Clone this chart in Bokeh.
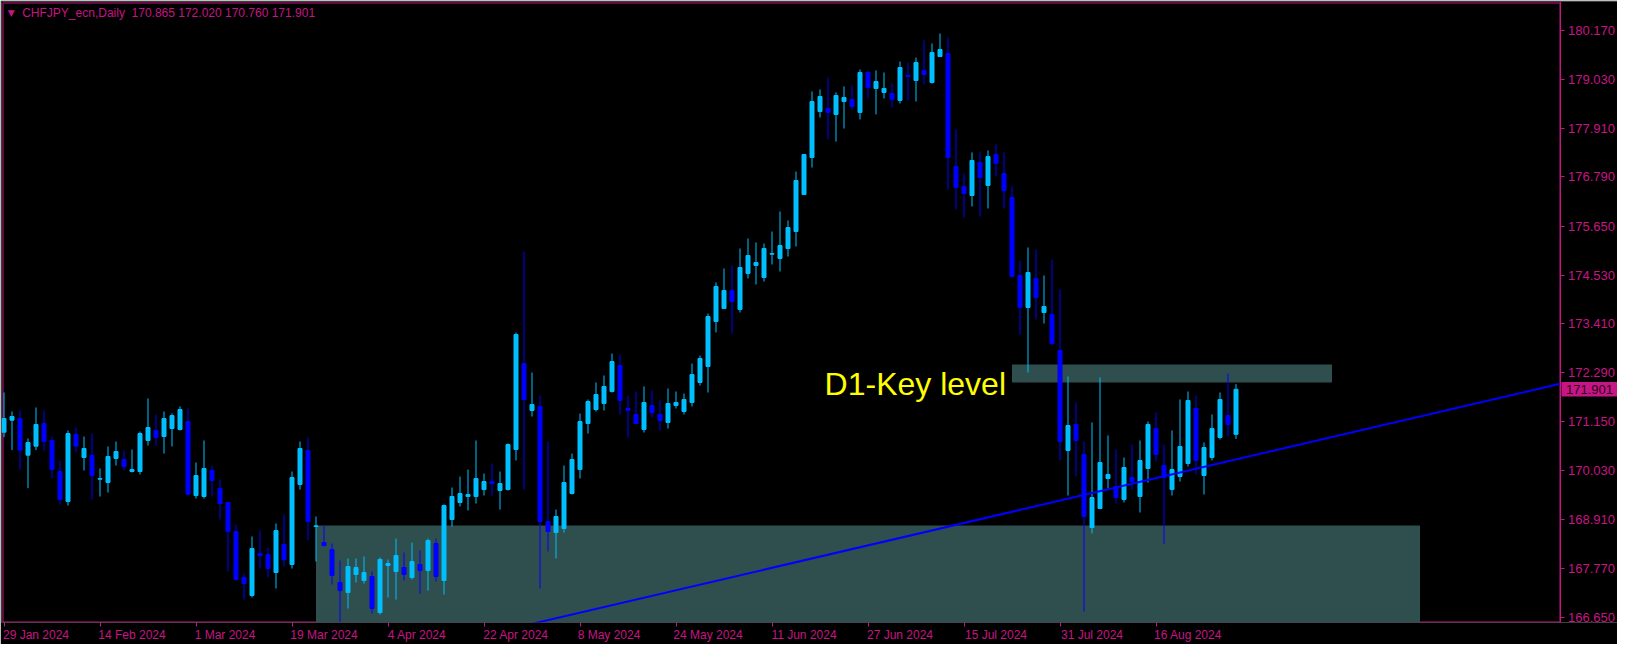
from bokeh.plotting import figure
from bokeh.models import Range1d, LinearAxis, FixedTicker, ColumnDataSource, PrintfTickFormatter
from bokeh.embed import file_html
from bokeh.resources import INLINE
from bokeh.core.properties import value

symbol = "CHFJPY_ecn"
timeframe = "Daily"

opens = [170.914, 171.190, 171.228, 170.385, 170.592, 171.113, 170.722, 170.009, 169.318, 170.860,
         170.331, 170.377, 169.832, 169.755, 170.308, 170.285, 170.009, 170.009, 170.722, 170.952,
         170.814, 170.998, 170.975, 171.159, 169.456, 169.433, 170.032, 169.617, 169.295, 168.628,
         167.569, 167.155, 168.121, 168.098, 167.684, 168.329, 167.868, 169.709, 170.492, 168.743,
         168.374, 168.213, 167.454, 167.223, 167.638, 167.500, 167.592, 166.763, 167.845, 167.707,
         167.799, 167.569, 167.868, 167.730, 168.351, 167.500, 168.904, 169.295, 169.433, 169.433,
         169.594, 169.778, 169.571, 169.594, 170.515, 172.494, 171.412, 171.504, 168.858, 168.604,
         168.697, 169.502, 170.054, 171.113, 171.435, 171.573, 171.850, 172.448, 171.459, 171.321,
         170.975, 171.528, 171.321, 171.136, 171.528, 171.390, 171.597, 172.057, 172.425, 173.461,
         173.760, 174.175, 173.737, 174.566, 174.750, 174.474, 175.011, 174.911, 175.141, 175.532,
         176.384, 177.236, 178.295, 178.364, 178.226, 178.525, 178.571, 178.272, 179.192, 178.824,
         178.732, 178.709, 178.548, 179.123, 179.008, 179.238, 178.962, 179.560, 179.629, 177.029,
         176.568, 176.361, 177.121, 176.592, 177.305, 176.867, 176.315, 174.520, 173.783, 174.451,
         173.668, 173.622, 172.794, 170.492, 171.090, 170.400, 168.720, 169.157, 169.848, 169.664,
         169.365, 169.871, 169.434, 170.078, 170.999, 170.147, 169.595, 169.894, 170.193, 171.459,
         169.917, 170.331, 170.792, 171.298, 170.865]
highs = [171.827, 171.390, 171.413, 170.768, 171.482, 171.413, 170.814, 170.262, 170.952, 171.021,
         170.814, 170.883, 170.078, 170.584, 170.699, 170.492, 170.515, 170.929, 171.689, 171.320,
         171.390, 171.343, 171.505, 171.459, 170.216, 170.722, 170.147, 169.825, 169.310, 168.789,
         167.661, 168.513, 168.651, 168.260, 168.812, 169.019, 170.009, 170.699, 170.791, 168.973,
         168.766, 168.351, 167.960, 168.006, 168.006, 168.052, 167.707, 168.029, 167.983, 168.466,
         168.144, 168.374, 168.190, 168.466, 168.466, 169.249, 169.640, 169.893, 170.054, 170.722,
         169.962, 170.193, 170.008, 170.653, 173.207, 175.072, 172.287, 171.758, 170.699, 169.134,
         170.146, 170.423, 171.343, 171.665, 172.057, 172.218, 172.724, 172.701, 171.758, 171.850,
         171.965, 171.873, 171.643, 171.919, 171.850, 171.804, 172.494, 172.679, 173.645, 174.359,
         174.681, 174.750, 175.141, 175.371, 175.279, 175.256, 175.532, 175.993, 175.786, 176.913,
         177.305, 178.755, 178.801, 179.077, 178.732, 178.870, 178.893, 179.261, 179.238, 179.238,
         179.192, 178.939, 179.445, 179.422, 179.537, 179.929, 179.860, 180.090, 179.998, 177.880,
         176.868, 177.351, 177.351, 177.397, 177.535, 177.351, 176.568, 174.865, 175.164, 175.118,
         174.520, 174.888, 174.197, 172.195, 171.597, 170.699, 171.136, 172.172, 170.838, 170.515,
         170.331, 170.630, 170.722, 171.160, 171.367, 170.630, 170.953, 171.666, 171.850, 171.758,
         170.676, 171.321, 171.827, 172.264, 172.020]
lows = [170.799, 170.500, 170.055, 169.625, 170.500, 170.477, 169.855, 169.249, 169.226, 170.454,
        170.032, 169.364, 169.433, 169.525, 170.147, 170.032, 169.986, 169.940, 170.607, 170.607,
        170.423, 170.584, 170.952, 169.470, 169.387, 169.387, 169.433, 168.904, 167.707, 167.500,
        167.063, 167.109, 167.776, 167.569, 167.316, 167.822, 167.776, 169.594, 168.421, 167.937,
        168.282, 167.408, 166.550, 166.855, 167.454, 167.431, 166.740, 166.717, 167.108, 167.062,
        167.500, 167.523, 167.200, 167.269, 167.477, 167.177, 168.743, 169.203, 169.111, 169.272,
        169.456, 169.456, 169.134, 169.571, 170.262, 169.594, 171.274, 167.316, 168.167, 168.006,
        168.604, 169.479, 169.847, 170.883, 171.389, 171.412, 171.827, 171.320, 170.791, 171.090,
        170.906, 171.252, 170.952, 170.998, 171.459, 171.321, 171.505, 171.988, 171.827, 173.208,
        173.760, 173.185, 173.668, 174.451, 174.313, 174.382, 174.773, 174.612, 174.957, 175.187,
        176.384, 177.005, 178.157, 177.650, 177.604, 177.903, 178.341, 178.111, 178.594, 178.226,
        178.594, 178.387, 178.479, 178.548, 178.525, 178.916, 178.939, 179.560, 176.499, 176.039,
        175.855, 176.108, 175.878, 176.062, 176.799, 176.062, 174.474, 173.162, 172.287, 173.507,
        173.415, 172.909, 170.262, 169.456, 169.894, 166.787, 168.582, 169.140, 169.618, 169.273,
        169.296, 169.595, 169.065, 169.756, 170.239, 168.340, 169.457, 169.779, 170.124, 169.940,
        169.480, 170.262, 170.746, 170.815, 170.760]
closes = [171.228, 171.274, 170.500, 170.676, 171.090, 170.699, 170.055, 169.364, 170.883, 170.592,
          170.538, 169.917, 169.847, 170.354, 170.469, 170.124, 170.055, 170.883, 171.021, 170.791,
          171.228, 171.297, 171.436, 169.487, 169.917, 170.078, 169.801, 169.272, 168.628, 167.523,
          167.431, 168.236, 168.075, 167.776, 168.651, 167.983, 169.871, 170.538, 168.858, 168.758,
          168.305, 167.615, 167.269, 167.822, 167.799, 167.684, 166.855, 167.983, 167.891, 168.075,
          167.638, 167.937, 167.730, 168.420, 167.592, 169.226, 169.433, 169.502, 169.479, 169.847,
          169.778, 169.732, 169.732, 170.630, 173.161, 171.665, 171.550, 168.858, 168.628, 168.973,
          169.755, 170.284, 171.159, 171.619, 171.781, 171.965, 172.540, 171.642, 171.413, 171.113,
          171.597, 171.367, 171.182, 171.574, 171.597, 171.666, 172.241, 172.610, 173.576, 174.267,
          174.175, 173.921, 174.704, 174.980, 174.819, 175.141, 175.026, 175.210, 175.624, 176.706,
          177.305, 178.524, 178.640, 178.272, 178.663, 178.617, 178.410, 179.192, 178.847, 178.985,
          178.824, 178.571, 179.307, 179.100, 179.422, 179.146, 179.653, 179.722, 177.236, 176.546,
          176.407, 177.167, 176.776, 177.259, 177.098, 176.476, 174.497, 173.783, 174.589, 174.013,
          173.806, 172.955, 170.699, 171.067, 170.722, 168.973, 169.410, 170.216, 169.940, 169.411,
          170.101, 169.779, 170.262, 171.091, 170.400, 169.871, 170.055, 170.584, 171.643, 170.262,
          170.561, 170.999, 171.666, 171.091, 171.901]

tick_bars = [0, 12, 24, 36, 48, 60, 72, 84, 96, 108, 120, 132, 144]
tick_labels = ["29 Jan 2024", "14 Feb 2024", "1 Mar 2024", "19 Mar 2024", "4 Apr 2024",
               "22 Apr 2024", "8 May 2024", "24 May 2024", "11 Jun 2024", "27 Jun 2024",
               "15 Jul 2024", "31 Jul 2024", "16 Aug 2024"]
price_ticks = [180.170, 179.030, 177.910, 176.790, 175.650, 174.530, 173.410,
               172.290, 171.150, 170.030, 168.910, 167.770, 166.650]

zone_bars = [39, 177]
zone_prices = [166.418, 168.766]
key_bars = [126, 166]
key_prices = [172.057, 172.472]
key_label = "D1-Key level"
trend_bars = [55, 200]
trend_prices = [166.030, 172.263]

MAG = "#C71585"
BULL = "#00BFFF"
BEAR = "#0000FF"
ZONE = "#2F4F4F"

# ---- layout calibration (pixels) ----
W, H = 1617, 644
BL, BR, BT, BB = 1, 0, 1, 22
PX_BAR = 8.0            # pixels per daily bar
PX_PRICE = 43.45        # pixels per 1.0 JPY
BAR0_PX = 3.5           # x pixel of bar 0
TICK0_PX = 29.5         # y pixel of the top price tick
BORDER_PX = 1559.5      # x pixel of the chart's right edge (price scale starts here)


def px_to_bar(px):
    return (px - BAR0_PX) / PX_BAR


def px_to_price(py):
    return price_ticks[0] - (py - TICK0_PX) / PX_PRICE


frame_w = W - BL - BR
frame_h = H - BT - BB
x_start = px_to_bar(BL)
x_end = px_to_bar(BL + frame_w)
y_end = px_to_price(BT)
y_start = px_to_price(BT + frame_h)
border_bar = px_to_bar(BORDER_PX)

p = figure(width=W, height=H, output_backend="svg", toolbar_location=None,
           x_range=Range1d(x_start, x_end), y_range=Range1d(y_start, y_end),
           min_border_left=BL, min_border_right=BR, min_border_top=BT, min_border_bottom=BB,
           background_fill_color="black", border_fill_color="black",
           outline_line_color=None, x_axis_location=None, y_axis_location=None)
p.grid.visible = False

# chart frame
p.quad(left=[px_to_bar(2.5)], right=[border_bar], bottom=[px_to_price(BT + frame_h - 0.5)],
       top=[px_to_price(2.5)], fill_color=None, line_color=MAG, line_width=1)

# price axis, pinned to the right edge of the chart
ya = LinearAxis(ticker=FixedTicker(ticks=price_ticks), formatter=PrintfTickFormatter(format="%.3f"),
                fixed_location=border_bar,
                major_tick_out=4, major_tick_in=0, minor_tick_out=0, minor_tick_in=0,
                axis_line_color=MAG, major_tick_line_color=MAG, minor_tick_line_color=None,
                major_label_text_color=MAG, major_label_text_font="Liberation Sans",
                major_label_text_font_size="13px", major_label_standoff=4)
p.add_layout(ya, "right")

# bottom date axis: tick marks at the dates (minor ticks), labels starting at each tick
centers = [round(b + (len(s) * 6.0 / 2 - 1) / PX_BAR, 3) for b, s in zip(tick_bars, tick_labels)]
xb = LinearAxis(ticker=FixedTicker(ticks=centers, minor_ticks=tick_bars),
                major_label_overrides={c: s for c, s in zip(centers, tick_labels)},
                axis_line_color=None, major_tick_line_color=None, minor_tick_line_color=MAG,
                major_tick_out=0, major_tick_in=0, minor_tick_out=4, minor_tick_in=0,
                major_label_text_color=MAG, major_label_text_font="Liberation Sans",
                major_label_text_font_size="12px", major_label_standoff=1)
p.add_layout(xb, "below")

# zones
p.quad(left=[zone_bars[0]], right=[zone_bars[1]], bottom=[zone_prices[0]], top=[zone_prices[1]],
       fill_color=ZONE, line_color=None)
p.quad(left=[key_bars[0]], right=[key_bars[1]], bottom=[key_prices[0]], top=[key_prices[1]],
       fill_color=ZONE, line_color=None)

# candles
idx = list(range(len(opens)))
colors = [BULL if c >= o else BEAR for o, c in zip(opens, closes)]
src = ColumnDataSource(dict(x=idx, o=opens, h=highs, l=lows, c=closes,
                            top=[max(o, c) for o, c in zip(opens, closes)],
                            bottom=[min(o, c) for o, c in zip(opens, closes)],
                            color=colors))
p.segment(x0="x", y0="l", x1="x", y1="h", line_color="color", line_width=1, source=src)
p.vbar(x="x", top="top", bottom="bottom", width=0.5, fill_color="color",
       line_color="color", line_width=1, source=src)

# trend line (a ray through its two anchors, ending at the chart edge)
slope = (trend_prices[1] - trend_prices[0]) / (trend_bars[1] - trend_bars[0])
trend_end = trend_prices[0] + slope * (border_bar - trend_bars[0])
p.line([trend_bars[0], border_bar], [trend_prices[0], trend_end], line_color="#0000FF", line_width=2)

# key level label
p.text(x=[key_bars[0]], y=[key_prices[0]], text=[key_label], text_align="right",
       text_baseline="alphabetic", x_offset=-6, y_offset=1, text_color="#FFFF00",
       text_font=value("Liberation Sans"), text_font_size="32px")

# header
header = f"{symbol},{timeframe}\u00a0\u00a0{opens[-1]:.3f} {highs[-1]:.3f} {lows[-1]:.3f} {closes[-1]:.3f}"
p.text(x=[x_start], y=[y_end], text=["\u25bc"], text_align="center", text_baseline="middle",
       x_offset=9.8, y_offset=11.3, text_color=MAG, text_font=value("DejaVu Sans"), text_font_size="9px")
p.text(x=[x_start], y=[y_end], text=[header], text_align="left", text_baseline="middle",
       x_offset=20.7, y_offset=11.7, text_color=MAG, text_font=value("Liberation Sans"),
       text_font_size="12px")

# current price tag on the price scale
half_h = 7.3 / PX_PRICE
p.quad(left=[px_to_bar(BORDER_PX + 1.5)], right=[x_end], bottom=[closes[-1] - half_h],
       top=[closes[-1] + half_h], fill_color=MAG, line_color=None)
p.text(x=[border_bar], y=[closes[-1]], text=[f"{closes[-1]:.3f}"], text_align="left",
       text_baseline="middle", x_offset=6, text_color="#2a0418",
       text_font=value("Liberation Sans"), text_font_size="13px")

open("out.html", "w").write(file_html(p, INLINE))
